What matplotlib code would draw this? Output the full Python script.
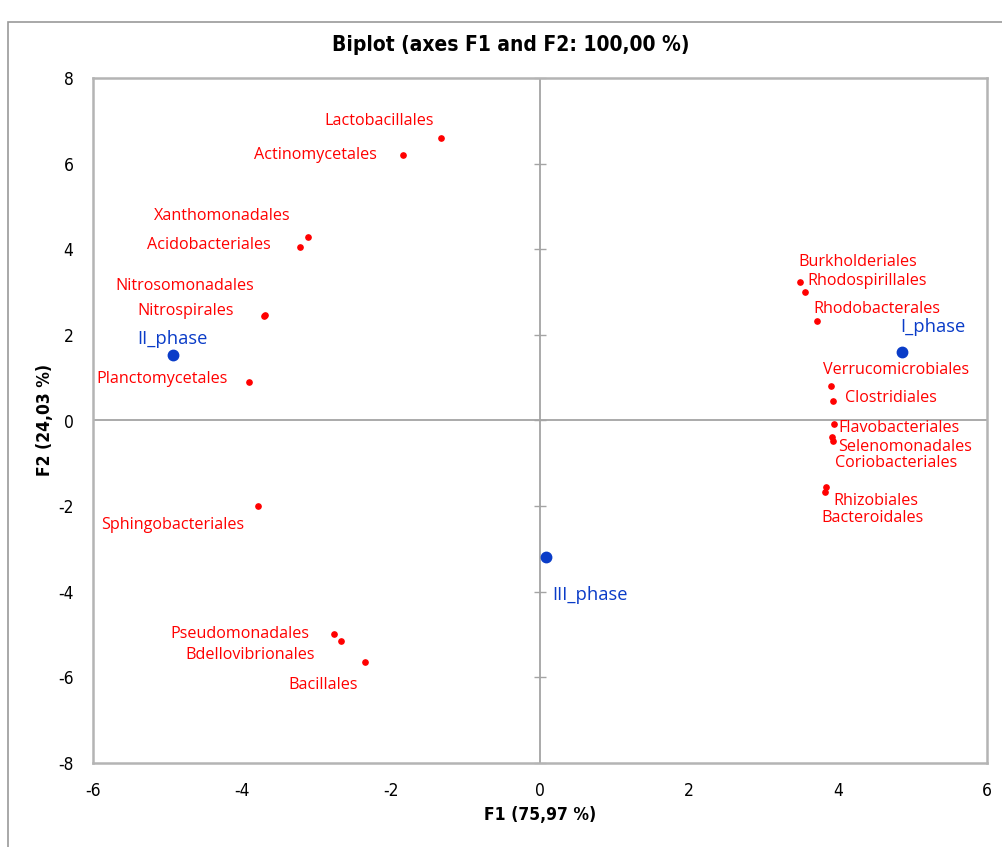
import numpy as np
import matplotlib.pyplot as plt
from matplotlib.patches import Rectangle

plt.rcParams['axes.unicode_minus'] = False

# variables (red) - F1 / F2 coordinates
var_names = ['Lactobacillales', 'Actinomycetales', 'Xanthomonadales', 'Acidobacteriales',
             'Nitrosomonadales', 'Nitrospirales', 'Planctomycetales', 'Sphingobacteriales',
             'Pseudomonadales', 'Bdellovibrionales', 'Bacillales',
             'Burkholderiales', 'Rhodospirillales', 'Rhodobacterales', 'Verrucomicrobiales',
             'Clostridiales', 'Flavobacteriales', 'Selenomonadales', 'Coriobacteriales',
             'Rhizobiales', 'Bacteroidales']
var_f1 = [-1.33, -1.84, -3.11, -3.22, -3.69, -3.71, -3.91, -3.79,
          -2.77, -2.67, -2.35,
          3.49, 3.56, 3.72, 3.91, 3.93, 3.95, 3.92, 3.93, 3.84, 3.82]
var_f2 = [6.60, 6.20, 4.29, 4.05, 2.46, 2.43, 0.90, -2.00,
          -4.99, -5.15, -5.64,
          3.24, 3.00, 2.32, 0.80, 0.46, -0.08, -0.38, -0.48, -1.55, -1.67]

# observations (blue)
obs_names = ['I_phase', 'II_phase', 'III_phase']
obs_f1 = [4.86, -4.93, 0.08]
obs_f2 = [1.60, 1.53, -3.19]

# label offsets in pixels (dx, dy) and horizontal alignment
var_offsets = [(-7, 17, 'right'), (-26, 0, 'right'), (-18, 21, 'right'), (-29, 2, 'right'),
               (-11, 29, 'right'), (-30, 5, 'right'), (-21, 3, 'right'), (-13, -19, 'right'),
               (-24, 0, 'right'), (-26, -14, 'right'), (-7, -23, 'right'),
               (-2, 20, 'left'), (2, 11, 'left'), (-4, 12, 'left'), (-8, 16, 'left'),
               (12, 3, 'left'), (4, -4, 'left'), (6, -10, 'left'), (2, -22, 'left'),
               (7, -14, 'left'), (-3, -26, 'left')]
obs_offsets = [(-2, 25, 'left'), (0, 16, 'center'), (6, -38, 'left')]

red = '#ff0000'
blue = '#0a3cc8'
lab_font = ['Open Sans', 'DejaVu Sans']
narrow = dict(family='DejaVu Sans', stretch='condensed')

fig = plt.figure(figsize=(10.03, 8.47), dpi=100)
fig.patches.append(Rectangle((8 / 1003, -0.1), 1.2, 1 - 22 / 847 + 0.1, transform=fig.transFigure,
                             fill=False, edgecolor='#9a9a9a', linewidth=1.2))
ax = fig.add_axes([93 / 1003, 1 - 763 / 847, 894 / 1003, 685 / 847])

ax.set_xlim(-6, 6)
ax.set_ylim(-8, 8)
ax.set_xticks(np.arange(-6, 7, 2))
ax.set_yticks(np.arange(-8, 9, 2))
ax.tick_params(length=0, labelsize=12.5, pad=14)
for lab in ax.get_xticklabels() + ax.get_yticklabels():
    lab.set_family('DejaVu Sans')
    lab.set_stretch('condensed')
for s in ax.spines.values():
    s.set_color('#b4b4b4')
    s.set_linewidth(1.8)

# centre axes, small cross ticks on the vertical one
ax.axhline(0, color='#a4a4a4', lw=1.3, zorder=1)
ax.axvline(0, color='#a4a4a4', lw=1.3, zorder=1)
yt = np.arange(-8, 9, 2)
ax.plot(np.zeros(len(yt)), yt, ls='none', marker='_', ms=9, mew=1, color='#a4a4a4', zorder=1, clip_on=False)

ax.plot(var_f1, var_f2, ls='none', marker='o', ms=3.8, color=red, zorder=3)
ax.plot(obs_f1, obs_f2, ls='none', marker='o', ms=7.5, color=blue, zorder=3)

for name, x, y, (dx, dy, ha) in zip(var_names, var_f1, var_f2, var_offsets):
    ax.annotate(name, (x, y), xytext=(dx * 0.72, dy * 0.72), textcoords='offset points',
                ha=ha, va='center', color=red, fontsize=11.6, family=lab_font)
for name, x, y, (dx, dy, ha) in zip(obs_names, obs_f1, obs_f2, obs_offsets):
    ax.annotate(name, (x, y), xytext=(dx * 0.72, dy * 0.72), textcoords='offset points',
                ha=ha, va='center', color=blue, fontsize=13.2, family=lab_font)

fig.text(511 / 1003, 1 - 45 / 847, 'Biplot (axes F1 and F2: 100,00 %)', ha='center', va='center',
         fontsize=15, fontweight='bold', **narrow)
fig.text(540 / 1003, 1 - 815 / 847, 'F1 (75,97 %)', ha='center', va='center',
         fontsize=12.5, fontweight='bold', **narrow)
fig.text(45 / 1003, 1 - 420 / 847, 'F2 (24,03 %)', ha='center', va='center', rotation=90,
         fontsize=12.5, fontweight='bold', **narrow)

fig.savefig('out.png', dpi=100)
